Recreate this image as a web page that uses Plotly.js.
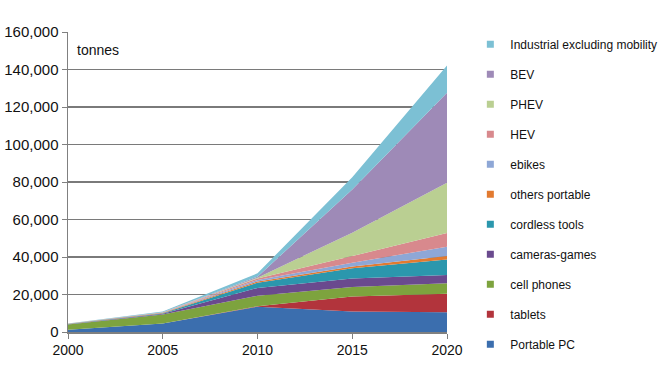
<!DOCTYPE html>
<html>
<head>
<meta charset="utf-8">
<script src="https://cdn.plot.ly/plotly-3.0.1.min.js"></script>
<style>html,body{margin:0;padding:0;background:#fff;}#chart{width:670px;height:377px;}</style>
</head>
<body>
<div id="chart"></div>
<script>
const years = [2000, 2005, 2010, 2015, 2020];
const seriesNames = ["Portable PC", "tablets", "cell phones", "cameras-games", "cordless tools",
  "others portable", "ebikes", "HEV", "PHEV", "BEV", "Industrial excluding mobility"];
const portablePC   = [1200, 4500, 13500, 11000, 10600];
const tablets      = [0, 0, 300, 8000, 9800];
const cellPhones   = [2800, 4800, 5500, 5000, 5600];
const camerasGames = [150, 400, 4200, 4500, 4400];
const cordlessTools= [100, 300, 2800, 5500, 8300];
const othersPortable=[100, 300, 700, 1000, 1800];
const ebikes       = [0, 100, 700, 2000, 5000];
const hev          = [0, 200, 800, 3500, 7300];
const phev         = [0, 0, 500, 12500, 26800];
const bev          = [0, 0, 500, 23000, 48000];
const industrial   = [200, 400, 1800, 6500, 14600];
const seriesValues = [portablePC, tablets, cellPhones, camerasGames, cordlessTools,
  othersPortable, ebikes, hev, phev, bev, industrial];
const colors = ["#3b6eae", "#b2343c", "#7da33e", "#6a4a8e", "#2b97ad",
  "#e27a30", "#8ea7d6", "#d8898d", "#bacf92", "#9e8ab7", "#7cc0d4"];
const yTicks = [0, 20000, 40000, 60000, 80000, 100000, 120000, 140000, 160000];

const traces = [];
seriesNames.forEach((n, i) => {
  traces.push({
    type: "scatter", x: years, y: seriesValues[i], name: n, stackgroup: "one",
    mode: "none", fillcolor: colors[i], line: {width: 0},
    legendgroup: n, showlegend: false, hoverinfo: "x+y+name"
  });
});
for (let i = seriesNames.length - 1; i >= 0; i--) {
  const n = seriesNames[i];
  traces.push({
    type: "scatter", x: [null], y: [null], name: n, mode: "markers",
    marker: {symbol: "square", size: 7, color: colors[i]},
    legendgroup: n, showlegend: true
  });
}

const layout = {
  width: 670, height: 377,
  margin: {l: 68, r: 223, t: 32, b: 45, autoexpand: false},
  paper_bgcolor: "#fff", plot_bgcolor: "#fff",
  font: {family: "Liberation Sans, Arial, sans-serif", size: 14, color: "#111"},
  showlegend: true,
  xaxis: {
    range: [2000, 2020], tickvals: years, ticktext: years.map(String),
    showgrid: false, zeroline: false, showline: true, linecolor: "#808080", linewidth: 1.5,
    ticks: "outside", ticklen: 5, tickcolor: "#808080", tickfont: {size: 14}
  },
  yaxis: {
    range: [0, 160000], tickvals: yTicks, tickformat: ",d",
    showgrid: true, gridcolor: "#7a7a7a", gridwidth: 1.5, zeroline: false,
    showline: true, linecolor: "#808080", linewidth: 1.5,
    ticks: "outside", ticklen: 5, tickcolor: "#808080", tickfont: {size: 15}
  },
  legend: {
    xref: "container", yref: "container",
    x: 0.702, xanchor: "left", y: 0.921, yanchor: "top",
    traceorder: "grouped", tracegroupgap: 11, maxheight: 1,
    font: {size: 12, color: "#111"}, itemwidth: 30, bgcolor: "rgba(0,0,0,0)"
  },
  annotations: [{
    xref: "paper", yref: "paper", x: 0.018, y: 0.94, xanchor: "left", yanchor: "middle",
    text: "tonnes", showarrow: false, font: {size: 14, color: "#111"}
  }]
};

Plotly.newPlot("chart", traces, layout, {displayModeBar: false, staticPlot: true});
</script>
</body>
</html>
